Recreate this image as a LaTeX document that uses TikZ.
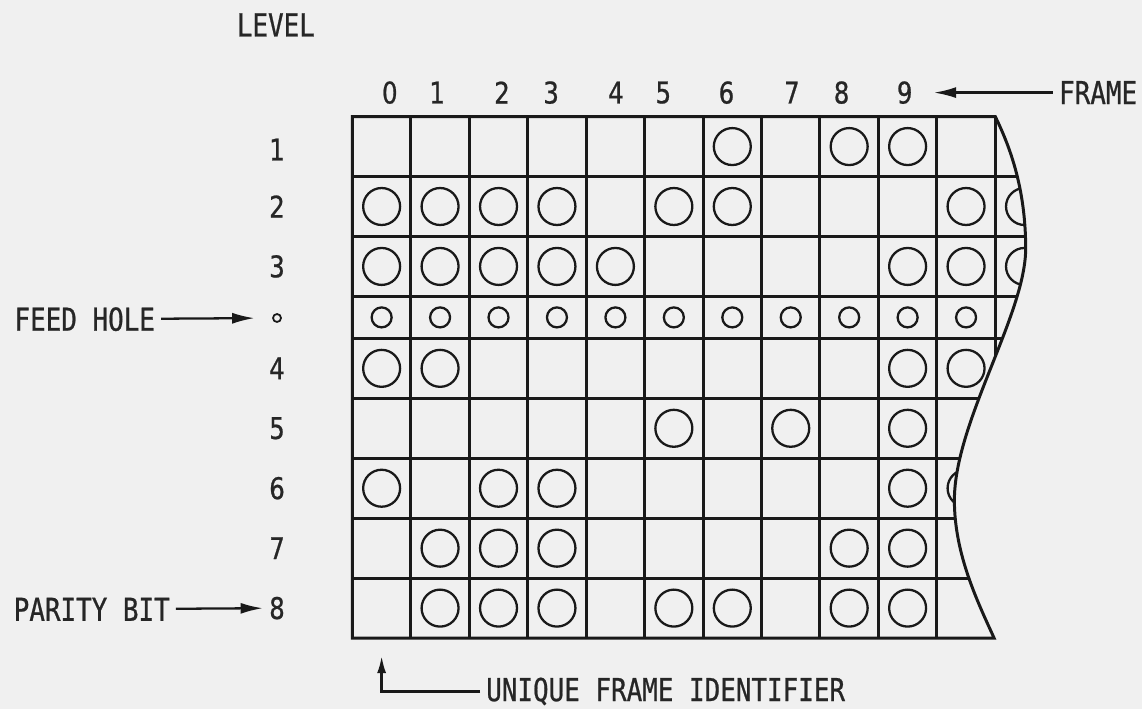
\documentclass[tikz,border=0pt]{standalone}
\usepackage{fontspec}
\newfontfamily\tapefont[FakeStretch=0.82,FakeBold=0.7]{DejaVu Sans Mono}
\newfontfamily\digitfont[FakeStretch=0.82,FakeBold=0.7]{DejaVu Sans}
\usepackage{tikz}
\usetikzlibrary{arrows.meta}

\begin{document}
\begin{tikzpicture}[x=1.17cm,y=1.2cm,
  every node/.style={font=\tapefont\fontsize{18}{20}\selectfont,text=black!85},
  digit/.style={font=\digitfont\fontsize{17}{20}\selectfont},
  grid/.style={line width=1.7pt,black!90},
  hole/.style={line width=1.3pt,black!90},
  arr/.style={line width=1.3pt,black!90,-{Latex[length=0.45cm,width=0.22cm]}}]
\fill[gray!12] (-6.03,1.945) rectangle (13.51,-9.89);

\node (level) at (-1.31,1.53) {LEVEL};
\foreach \n/\x in {0/0.64,1/1.45,2/2.56,3/3.40,4/4.51,5/5.32,6/6.40,7/7.52,8/8.37,9/9.45} {
\node[digit] (f\n) at (\x,0.4) {\n};
}
\node (frame) at (12.76,0.4) {FRAME};
\draw[arr,shorten >=0.3cm] (frame) -- (f9);

\foreach \n/\y in {1/0.55,2/1.5,3/2.5,4/4.2,5/5.2,6/6.2,7/7.2,8/8.2} {
\node[digit] (l\n) at (-1.29,-\y) {\n};
}
\node[circle,draw,black!90,line width=1pt,inner sep=0pt,minimum size=0.16cm] (lfeed) at (-1.29,-3.36) {};
\node (feed) at (-4.58,-3.38) {FEED HOLE};
\draw[arr,shorten >=0.35cm] (feed) -- (lfeed);
\node (parity) at (-4.46,-8.22) {PARITY BIT};
\draw[arr] (parity) -- (l8);

% tape with torn right edge
\begin{scope}
\clip (11,0) -- (0,0) -- (0,-8.7) -- (10.98,-8.7)
  .. controls (10.7,-8.1) and (10.30,-7.3) .. (10.30,-6.4)
  .. controls (10.30,-5.1) and (11.52,-3.3) .. (11.52,-2.2)
  .. controls (11.52,-1.2) and (11.25,-0.5) .. (11,0) -- cycle;
\foreach \y in {1,2,3,3.7,4.7,5.7,6.7,7.7} {
\draw[grid] (0,-\y) -- (12,-\y);
}
\foreach \x in {1,...,11} {
\draw[grid] (\x,0) -- (\x,-8.7);
}
\foreach \y/\cols in {0.5/{6,8,9},1.5/{0,1,2,3,5,6,10,11},2.5/{0,1,2,3,4,9,10,11},4.2/{0,1,9,10},
  5.2/{5,7,9},6.2/{0,2,3,9,10},7.2/{1,2,3,8,9},8.2/{1,2,3,5,6,8,9}} {
\foreach \c in \cols {
\draw[hole] (\c+0.5,-\y) circle (0.37cm);
}
}
\foreach \c in {0,...,11} {
\draw[hole] (\c+0.5,-3.35) circle (0.2cm);
}
\end{scope}
\draw[grid] (11,0) -- (0,0) -- (0,-8.7) -- (10.98,-8.7)
  .. controls (10.7,-8.1) and (10.30,-7.3) .. (10.30,-6.4)
  .. controls (10.30,-5.1) and (11.52,-3.3) .. (11.52,-2.2)
  .. controls (11.52,-1.2) and (11.25,-0.5) .. (11,0) -- cycle;

\node (uid) at (5.36,-9.59) {UNIQUE FRAME IDENTIFIER};
\coordinate (idtip) at (0.5,-9.0);
\draw[arr,-{Latex[length=0.34cm,width=0.18cm]}] (uid.west) -| (idtip);
\end{tikzpicture}
\end{document}
